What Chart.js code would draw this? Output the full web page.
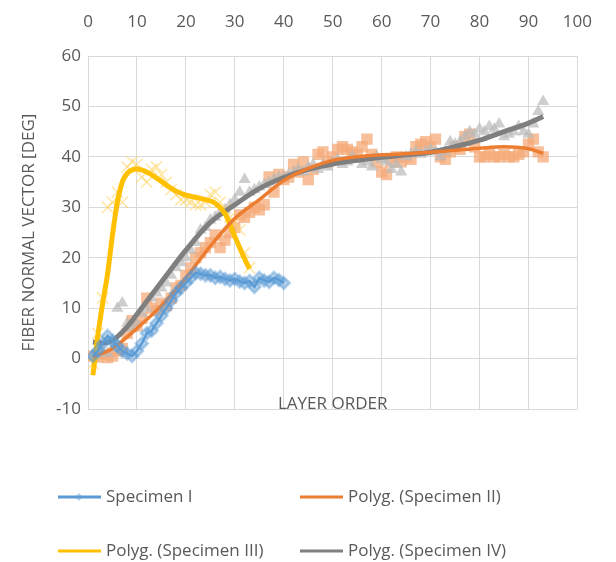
<!DOCTYPE html>
<html>
<head>
<meta charset="utf-8">
<script src="https://cdn.jsdelivr.net/npm/chart.js@4.4.1/dist/chart.umd.min.js"></script>
<style>
  body { margin: 0; background: #fff; }
  #fiberChart { display: block; }
</style>
</head>
<body>
<canvas id="fiberChart" width="616" height="562"></canvas>
<script>
// layer numbers (x)
const layers = [1,2,3,4,5,6,7,8,9,10,11,12,13,14,15,16,17,18,19,20,21,22,23,24,25,26,27,28,29,30,
  31,32,33,34,35,36,37,38,39,40,41,42,43,44,45,46,47,48,49,50,51,52,53,54,55,56,57,58,59,60,
  61,62,63,64,65,66,67,68,69,70,71,72,73,74,75,76,77,78,79,80,81,82,83,84,85,86,87,88,89,90,91,92,93];

// measured angles [deg]
const specimenI = [0.5,1.5,3,4.5,3.5,2.5,1.5,1,0.5,1.5,3,5,5.5,7,8.5,10,11.5,13,14,15,
  16,17,16.8,16.5,16.5,16,16.2,15.8,15.5,15.8,15.3,15,15.4,14.2,16,15.5,15.2,16,15.6,15];

const specimenII = [0.5,0.3,0.8,0.2,0.5,1.5,2,5,7.5,6.5,8,12,10,9.5,11,10.5,12,14,14.5,16.5,
  18,20,21,22,23,24.5,22,23.5,25,26,28.5,28,29,30,29.5,30.5,36,33,36.5,35.5,
  36,38.5,37,39,35.5,37.5,40.5,41,39,40,41.5,42,41.5,41,40.5,42,43.5,40.5,39,37,
  36.5,39,40,39,40,39.5,42,42.5,43,42,43.5,40,39.5,41,42,41.5,44,44.5,42,40,
  40,40.5,40,40,40.5,40,40,40.5,41,42.5,43.5,41,40];

const specimenIII = [-1,5,12,30,31,33,31,38,39,38.5,36,35,37.5,38,36.5,35,33.5,32.5,31.5,31.5,
  31,30.5,30.5,31,32.5,33,31,29.5,28,27,25.5,21,18];

const specimenIV = [0.5,1,1.5,1,2,10,11,7,6,7,9,10,12,13,14,15,16.5,18,19,20,
  21.5,23,25.5,26,27.5,28,29,29.5,30.5,31.5,33,35.5,33,33.5,34,34.5,35,35.5,36,36,
  36.5,37,37.5,37,38,38.5,37.5,38.5,38,39,39.5,38.5,39,40,39.5,38.5,39,38,40,39.5,
  39,37.5,38.5,37,40,40.5,41,40.5,41,41.5,41,40,41,43,42.5,43,44,45,44.5,45.5,
  45,46,45.5,46.5,44,44.5,45,46,45,44.5,46.5,49,51];

// polynomial trendlines
const trendIIx = [1,5,10,15,20,25,30,35,40,45,50,55,60,65,70,75,80,85,90,93];
const trendIIy = [0.3,2,6,10.5,16,22.3,27.8,31.5,35.3,37.7,39.3,40,40.4,40.6,40.9,41.3,41.7,42,41.6,40.7];

const trendIIIx = [1,2,3,4,5,6,7,8,10,12,14,16,18,20,22,24,26,28,30,32,33];
const trendIIIy = [-3.3,4.5,11,16.8,24.5,31,35,36.7,37.6,37,35.8,34.4,33.2,32.4,32,31.5,30.8,28.7,24.2,19.8,17.8];

const trendIVx = [1,3,5,8,10,15,20,25,30,35,40,45,50,55,60,65,70,75,80,85,90,93];
const trendIVy = [3.3,3.1,3.6,6.3,8.8,15.2,21.5,27,30.5,33.7,35.9,37.5,38.6,39.3,39.9,40.4,40.9,42,43.3,45,46.7,48];

const xTicks = [0,10,20,30,40,50,60,70,80,90,100];
const yTicks = [-10,0,10,20,30,40,50,60];

function pairs(xs, ys) {
  return ys.map((y, i) => ({ x: xs[i], y: y }));
}

const txtColor = '#595959';
const gridColor = '#D9D9D9';
const fontName = "'Open Sans', sans-serif";

const legendPlugin = {
  id: 'bottomLegend',
  afterDraw(chart) {
    const c = chart.ctx;
    const items = [
      { ds: 0, x: 58, y: 497 },
      { ds: 1, x: 300, y: 497 },
      { ds: 2, x: 58, y: 551 },
      { ds: 3, x: 300, y: 551 }
    ];
    c.save();
    c.font = '17px ' + fontName;
    c.textBaseline = 'middle';
    c.fillStyle = txtColor;
    items.forEach(it => {
      const ds = chart.data.datasets[it.ds];
      c.strokeStyle = ds.borderColor;
      c.lineWidth = 3;
      c.beginPath();
      c.moveTo(it.x, it.y);
      c.lineTo(it.x + 43, it.y);
      c.stroke();
      if (ds.legendMarker) {
        c.fillStyle = ds.pointBackgroundColor;
        c.beginPath();
        c.moveTo(it.x + 21, it.y - 4);
        c.lineTo(it.x + 25, it.y);
        c.lineTo(it.x + 21, it.y + 4);
        c.lineTo(it.x + 17, it.y);
        c.closePath();
        c.fill();
        c.fillStyle = txtColor;
      }
      c.fillText(ds.label, it.x + 48, it.y);
    });
    // x axis title sits inside the plot near the bottom
    c.font = '17px ' + fontName;
    c.textAlign = 'center';
    const a = chart.chartArea;
    c.fillText('LAYER ORDER', (a.left + a.right) / 2, a.bottom - 5);
    c.restore();
  }
};

const ctx = document.getElementById('fiberChart').getContext('2d');

new Chart(ctx, {
  type: 'scatter',
  data: {
    datasets: [
      {
        label: 'Specimen I',
        data: pairs(layers, specimenI),
        showLine: true,
        borderColor: '#5B9BD5',
        borderWidth: 2.5,
        pointStyle: 'rectRot',
        pointRadius: 6,
        pointBackgroundColor: 'rgba(91,155,213,0.45)',
        pointBorderColor: 'rgba(91,155,213,0.45)',
        legendMarker: true,
        tension: 0
      },
      {
        label: 'Polyg. (Specimen II)',
        data: pairs(trendIIx, trendIIy),
        showLine: true,
        borderColor: '#ED7D31',
        borderWidth: 3.5,
        pointRadius: 0,
        cubicInterpolationMode: 'monotone'
      },
      {
        label: 'Polyg. (Specimen III)',
        data: pairs(trendIIIx, trendIIIy),
        showLine: true,
        borderColor: '#FFC000',
        borderWidth: 5,
        pointRadius: 0,
        cubicInterpolationMode: 'monotone'
      },
      {
        label: 'Polyg. (Specimen IV)',
        data: pairs(trendIVx, trendIVy),
        showLine: true,
        borderColor: '#7F7F7F',
        borderWidth: 5,
        pointRadius: 0,
        cubicInterpolationMode: 'monotone'
      },
      {
        label: 'Specimen III',
        data: pairs(layers, specimenIII),
        pointStyle: 'crossRot',
        pointRadius: 8,
        borderWidth: 1.5,
        pointBorderColor: 'rgba(255,210,90,0.55)',
        pointBackgroundColor: 'rgba(255,210,90,0.55)'
      },
      {
        label: 'Specimen IV',
        data: pairs(layers, specimenIV),
        pointStyle: 'triangle',
        pointRadius: 7,
        borderWidth: 0,
        pointBackgroundColor: 'rgba(185,185,185,0.7)',
        pointBorderColor: 'rgba(185,185,185,0.7)'
      },
      {
        label: 'Specimen II',
        data: pairs(layers, specimenII),
        pointStyle: 'rect',
        pointRadius: 8,
        borderWidth: 0,
        pointBackgroundColor: 'rgba(244,170,120,0.75)',
        pointBorderColor: 'rgba(244,170,120,0.75)'
      }
    ]
  },
  options: {
    responsive: false,
    animation: false,
    layout: { padding: { left: 0, top: 0, right: 28, bottom: 153 } },
    plugins: {
      legend: { display: false },
      tooltip: { enabled: false }
    },
    scales: {
      x: {
        type: 'linear',
        position: 'top',
        min: 0,
        max: 100,
        afterBuildTicks: s => { s.ticks = xTicks.map(v => ({ value: v })); },
        afterFit: s => { s.height = 56; },
        grid: { color: gridColor, drawTicks: false },
        border: { color: gridColor },
        ticks: { color: txtColor, font: { family: fontName, size: 17 }, padding: 24 }
      },
      y: {
        min: -10,
        max: 60,
        afterBuildTicks: s => { s.ticks = yTicks.map(v => ({ value: v })); },
        afterFit: s => { s.width = 88; },
        grid: { color: gridColor, drawTicks: false },
        border: { color: gridColor },
        ticks: { color: txtColor, font: { family: fontName, size: 17 }, padding: 7 },
        title: {
          display: true,
          text: 'FIBER NORMAL VECTOR [DEG]',
          color: txtColor,
          font: { family: fontName, size: 17 },
          padding: { top: 19, bottom: 0 }
        }
      }
    }
  },
  plugins: [legendPlugin]
});
</script>
</body>
</html>
